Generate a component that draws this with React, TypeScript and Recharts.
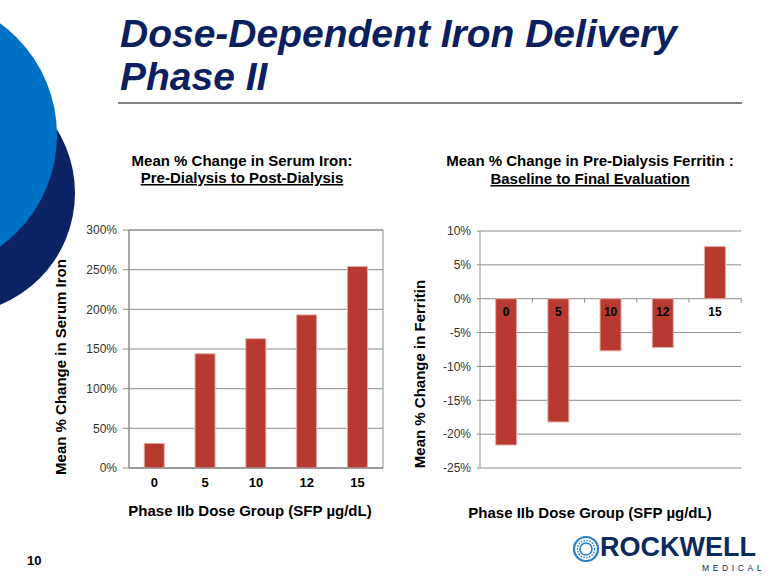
import React from 'react';
import { BarChart, Bar, XAxis, YAxis, CartesianGrid, ReferenceArea, LabelList } from 'recharts';

const doseGroups = ['0', '5', '10', '12', '15'];
const serumIronChange = [31, 144, 163, 193, 254];
const ferritinChange = [-21.6, -18.2, -7.7, -7.2, 7.7];
const serumTicks = [0, 50, 100, 150, 200, 250, 300];
const ferritinTicks = [-25, -20, -15, -10, -5, 0, 5, 10];

const serumData = doseGroups.map((dose, i) => ({ dose, value: serumIronChange[i] }));
const ferritinData = doseGroups.map((dose, i) => ({ dose, value: ferritinChange[i] }));

const FONT = '"Liberation Sans", Arial, Helvetica, sans-serif';
const BAR = '#b8392f';
const GRID = '#8c8c8c';
const NAVY = '#0c1f5e';

const pct = (v: number) => `${v}%`;

const ZeroLabel = (props: any) => {
  const vb = props.viewBox || props;
  const x = Number(vb.x);
  const y = Number(vb.y);
  const w = Number(vb.width);
  const h = Number(vb.height);
  const idx = Number(props.index);
  const v = ferritinChange[idx];
  const zero = v < 0 ? Math.min(y, y + h) : Math.max(y, y + h);
  const cx = x + w / 2;
  const band = w / 0.4;
  const bx = cx + band / 2;
  return (
    <g>
      <text x={cx} y={zero + 17} textAnchor="middle" fontFamily={FONT} fontSize={12} fontWeight="bold" fill="#000">
        {props.value}
      </text>
      <line x1={bx} x2={bx} y1={zero - 1} y2={zero + 4} stroke={GRID} strokeWidth={1} />
    </g>
  );
};

export default function App() {
  return (
    <div style={{ position: 'absolute', left: 0, top: 0, width: 780, height: 585, background: '#fff', overflow: 'hidden', fontFamily: FONT }}>
      <svg width={780} height={585} style={{ position: 'absolute', left: 0, top: 0 }}>
        <circle cx={-46} cy={193} r={121} fill="#0b2265" />
        <circle cx={-81} cy={135} r={138} fill="#0072c6" />

        <text x={120} y={47} fontFamily={FONT} fontSize={39} fontWeight="bold" fontStyle="italic" fill={NAVY}>
          Dose-Dependent Iron Delivery
        </text>
        <text x={120} y={90} fontFamily={FONT} fontSize={39} fontWeight="bold" fontStyle="italic" fill={NAVY}>
          Phase II
        </text>
        <line x1={118} x2={742} y1={103} y2={103} stroke="#7f7f7f" strokeWidth={2} />

        <text x={242} y={166} textAnchor="middle" fontFamily={FONT} fontSize={15} fontWeight="bold" fill="#000">
          Mean % Change in Serum Iron:
        </text>
        <text x={242} y={183} textAnchor="middle" fontFamily={FONT} fontSize={15} fontWeight="bold" fill="#000" style={{ textDecoration: 'underline' }}>
          Pre-Dialysis to Post-Dialysis
        </text>
        <text x={590} y={166} textAnchor="middle" fontFamily={FONT} fontSize={15} fontWeight="bold" fill="#000">
          Mean % Change in Pre-Dialysis Ferritin :
        </text>
        <text x={590} y={184} textAnchor="middle" fontFamily={FONT} fontSize={15} fontWeight="bold" fill="#000" style={{ textDecoration: 'underline' }}>
          Baseline to Final Evaluation
        </text>

        <text transform="translate(66,367) rotate(-90)" textAnchor="middle" fontFamily={FONT} fontSize={15} fontWeight="bold" fill="#000">
          Mean % Change in Serum Iron
        </text>
        <text transform="translate(425,374) rotate(-90)" textAnchor="middle" fontFamily={FONT} fontSize={15} fontWeight="bold" fill="#000">
          Mean % Change in Ferritin
        </text>

        <text x={250} y={516} textAnchor="middle" fontFamily={FONT} fontSize={15} fontWeight="bold" fill="#000">
          Phase IIb Dose Group (SFP µg/dL)
        </text>
        <text x={590} y={518} textAnchor="middle" fontFamily={FONT} fontSize={15} fontWeight="bold" fill="#000">
          Phase IIb Dose Group (SFP µg/dL)
        </text>

        <text x={27} y={565} fontFamily={FONT} fontSize={13} fontWeight="bold" fill="#000">10</text>

        <circle cx={586} cy={549} r={12} fill="none" stroke="#2a7fc4" strokeWidth={2.2} />
        <circle cx={586} cy={549} r={8.6} fill="none" stroke="#2a7fc4" strokeWidth={1.4} strokeDasharray="1.6 1.3" />
        <circle cx={586} cy={549} r={6} fill="none" stroke="#2a7fc4" strokeWidth={1.6} />
        <text x={600} y={556} fontFamily={FONT} fontSize={27} fontWeight="bold" fill="#0b2a5e">ROCKWELL</text>
        <text x={702} y={571} fontFamily={FONT} fontSize={8.5} fill="#0b2a5e" letterSpacing={3.6}>MEDICAL</text>
      </svg>

      <div style={{ position: 'absolute', left: 60, top: 220 }}>
        <BarChart width={340} height={300} data={serumData} margin={{ top: 10, right: 17, left: 0, bottom: 22 }} barCategoryGap="30%">
          <CartesianGrid vertical={false} stroke={GRID} strokeDasharray="" />
          <ReferenceArea y1={0} y2={300} fill="none" stroke={GRID} strokeWidth={1} fillOpacity={0} ifOverflow="visible" />
          <XAxis
            dataKey="dose"
            height={30}
            axisLine={{ stroke: GRID }}
            tickLine={false}
            tickMargin={4}
            tick={{ fontFamily: FONT, fontSize: 13, fontWeight: 'bold', fill: '#000' }}
          />
          <YAxis
            width={69}
            domain={[0, 300]}
            ticks={serumTicks}
            tickFormatter={pct}
            axisLine={{ stroke: GRID }}
            tickLine={{ stroke: GRID }}
            tickSize={6}
            tickMargin={6}
            tick={{ fontFamily: FONT, fontSize: 12, fill: '#333' }}
            interval={0}
          />
          <Bar dataKey="value" fill={BAR} stroke="#e4aaa3" strokeWidth={1} isAnimationActive={false} />
        </BarChart>
      </div>

      <div style={{ position: 'absolute', left: 410, top: 220 }}>
        <BarChart width={360} height={300} data={ferritinData} margin={{ top: 11, right: 29, left: 0, bottom: 52 }} barCategoryGap="30%">
          <CartesianGrid vertical={false} stroke={GRID} strokeDasharray="" />
          <XAxis dataKey="dose" hide />
          <YAxis
            width={70}
            domain={[-25, 10]}
            ticks={ferritinTicks}
            tickFormatter={pct}
            axisLine={{ stroke: GRID }}
            tickLine={{ stroke: GRID }}
            tickSize={3}
            tickMargin={6}
            tick={{ fontFamily: FONT, fontSize: 12, fill: '#333' }}
            interval={0}
          />
          <Bar dataKey="value" fill={BAR} stroke="#e4aaa3" strokeWidth={1} isAnimationActive={false}>
            <LabelList dataKey="dose" content={ZeroLabel} />
          </Bar>
        </BarChart>
      </div>
    </div>
  );
}
